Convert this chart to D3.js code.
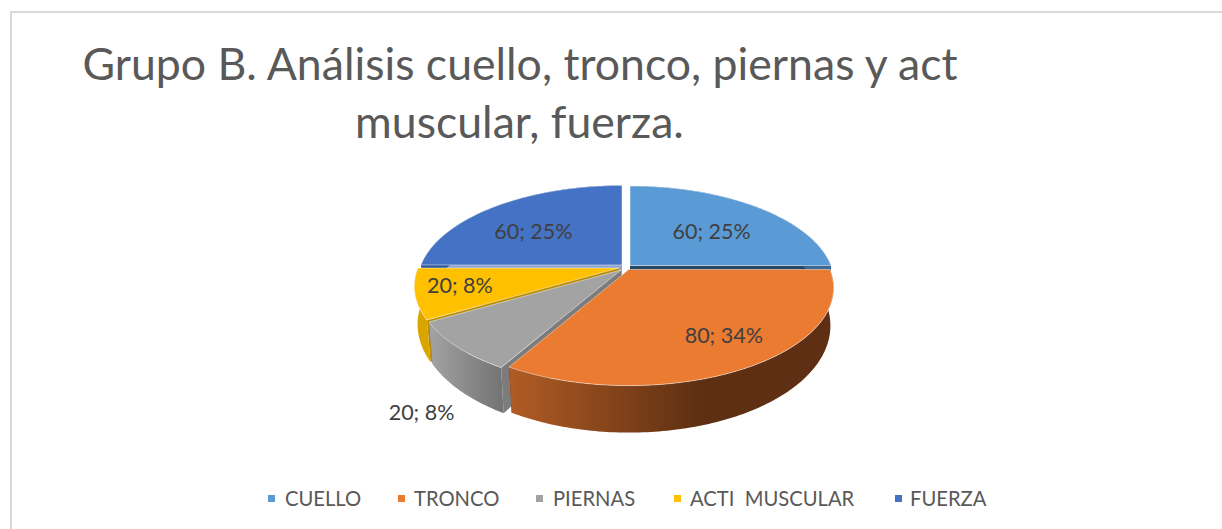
<!DOCTYPE html>
<html><head><meta charset="utf-8">
<style>html,body{margin:0;padding:0;background:#fff}svg{display:block}text{font-family:Lato,"Open Sans",sans-serif}</style>
<script src="https://cdn.jsdelivr.net/npm/d3@7"></script></head>
<body><script>
const categories = ["CUELLO","TRONCO","PIERNAS","ACTI  MUSCULAR","FUERZA"];
const values = [60,80,20,20,60];
const percents = [25,34,8,8,25];
const colors = ["#5B9BD5","#EB7B31","#A3A3A3","#FFC000","#4472C4"];
const wallColors = ["#264766","#5f2f12","#7c7c7c","#b88a00","#8fa3cc"];
const sideStops = [["#3d6a94","#3d6a94"],["#b05c24","#5e2f12"],["#a3a3a3","#747474"],["#dba500","#dba500"],["#2f5597","#2f5597"]];
const titleLines = ["Grupo B. Análisis cuello, tronco, piernas y act","muscular, fuerza."];

const W=1222,H=529;
const svg=d3.select("body").append("svg").attr("width",W).attr("height",H);
svg.append("rect").attr("x",11).attr("y",12).attr("width",W+20).attr("height",H+20).attr("fill","#fff").attr("stroke","#d9d9d9").attr("stroke-width",2);

// projection of the pie plane with perspective
const R=201, Rq=94.4, P=0.187;
const cx=630, cy=267;
const proj=(a,r)=>{const u=Math.sin(a)*r,v=-Math.cos(a)*r,s=1/(1-P*v);return {x:R*u*s,y:Rq*v*s,v};};
const depthAt=d3.scaleLinear().domain([-1,1]).range([27,47]);
const shrink=d3.scaleLinear().domain([-1,1]).range([0.995,0.977]);
const offsets=[[0,-1.5],[-1,2.5],[-9,3],[-11,1],[-8,-2]];

const arcs=d3.pie().sort(null).value(d=>d)(values);
const line=d3.line().x(d=>d[0]).y(d=>d[1]);
const defs=svg.append("defs");
const color=d3.scaleOrdinal(categories,colors);

const topPt=(i,a,r)=>{const p=proj(a,r);return [cx+offsets[i][0]+p.x,cy+offsets[i][1]+p.y];};
const botPt=(i,a,r)=>{const p=proj(a,r);return [cx+offsets[i][0]+p.x*shrink(p.v),cy+offsets[i][1]+p.y+depthAt(p.v)];};

const order=[4,0,3,2,1];
order.forEach(i=>{
  const d=arcs[i];
  const n=Math.max(8,Math.round((d.endAngle-d.startAngle)*60));
  const as=d3.range(n+1).map(k=>d.startAngle+(d.endAngle-d.startAngle)*k/n);
  const g=svg.append("g").attr("class","slice");
  const gid="side"+i;
  const xs=as.map(a=>topPt(i,a,1)[0]);
  const lg=defs.append("linearGradient").attr("id",gid).attr("gradientUnits","userSpaceOnUse")
    .attr("x1",i===1?510:d3.min(xs)).attr("x2",i===1?700:d3.max(xs)).attr("y1",0).attr("y2",0);
  lg.append("stop").attr("offset",0).attr("stop-color",sideStops[i][0]);
  lg.append("stop").attr("offset",1).attr("stop-color",sideStops[i][1]);
  // walls
  [d.startAngle,d.endAngle].forEach(a=>{
    g.append("path").attr("d",line([topPt(i,a,0),topPt(i,a,1),botPt(i,a,1),botPt(i,a,0)])+"Z")
      .attr("fill",wallColors[i]);
  });
  // outer side
  g.append("path").attr("d",line(as.map(a=>topPt(i,a,1)).concat(as.slice().reverse().map(a=>botPt(i,a,1))))+"Z")
    .attr("fill",`url(#${gid})`);
  // top face
  g.append("path").attr("d",line([topPt(i,d.startAngle,0)].concat(as.map(a=>topPt(i,a,1))))+"Z")
    .attr("fill",color(categories[i])).attr("stroke","#fff").attr("stroke-opacity",.6).attr("stroke-width",.8);
});

// labels
const labelR=[0.63,0.75,1.6,0.75,0.63];
const nudge=[[-1,3],[8,-1],[80,10],[-19,-1],[-14,3]];
arcs.forEach((d,i)=>{
  const a=(d.startAngle+d.endAngle)/2,p=proj(a,labelR[i]);
  svg.append("text").attr("x",cx+p.x+nudge[i][0]).attr("y",cy+p.y+nudge[i][1]+7.5)
    .attr("text-anchor","middle").attr("font-size",21.5).attr("fill","#404040")
    .text(`${values[i]}; ${percents[i]}%`);
});

// title
svg.selectAll(".title").data(titleLines).join("text").attr("class","title")
  .attr("x",(d,i)=>i?519.5:520).attr("y",(d,i)=>i?138:80).attr("text-anchor","middle")
  .attr("font-size",44.6).attr("fill","#595959").text(d=>d);

// legend
const lx=[268,398,536,674,895],tx=[285,414,553,690,910];
categories.forEach((c,i)=>{
  svg.append("rect").attr("x",lx[i]).attr("y",495).attr("width",7).attr("height",7).attr("fill",colors[i]);
  svg.append("text").attr("x",tx[i]).attr("y",505.5).attr("font-size",20.2).attr("fill","#595959").style("white-space","pre").text(c);
});
</script></body></html>
